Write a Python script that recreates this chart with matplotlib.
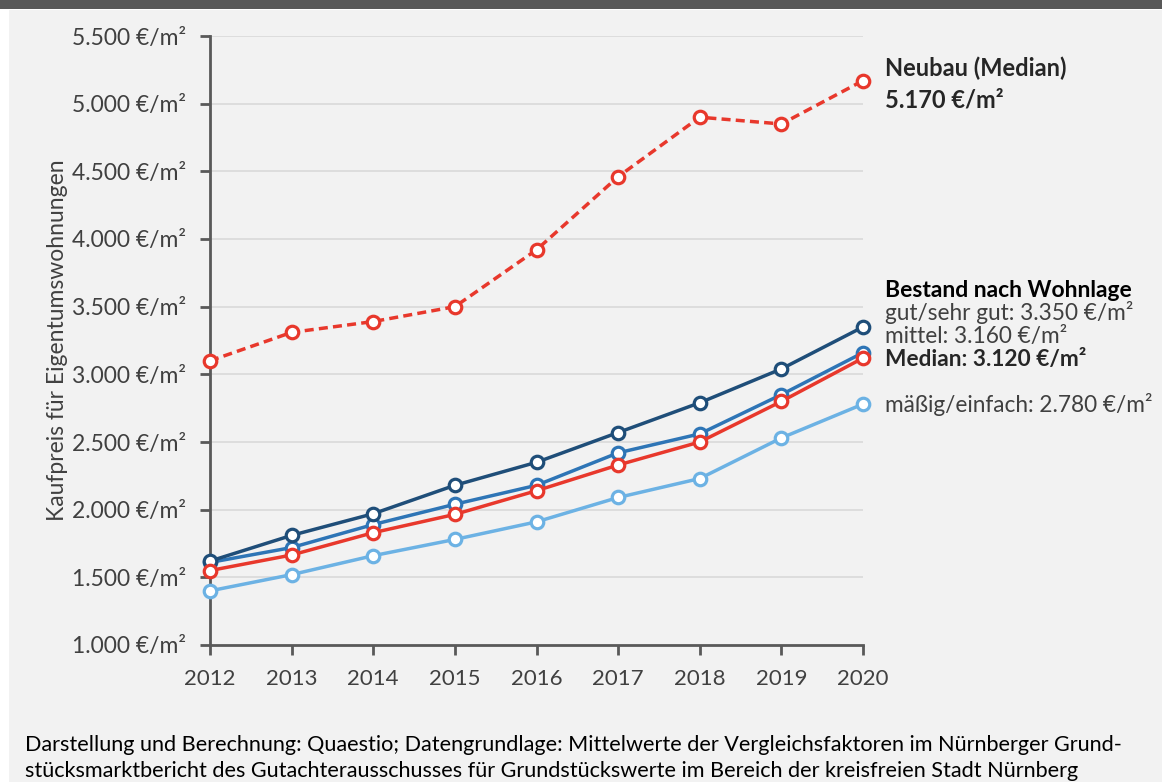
import matplotlib
matplotlib.use("Agg")
import matplotlib.pyplot as plt
from matplotlib.ticker import FuncFormatter, MultipleLocator
from matplotlib.patches import Rectangle

plt.rcParams['font.family'] = ['Lato', 'DejaVu Sans']

years = [2012, 2013, 2014, 2015, 2016, 2017, 2018, 2019, 2020]
neubau_median = [3100, 3310, 3390, 3500, 3920, 4460, 4900, 4850, 5170]
bestand_gut = [1620, 1810, 1970, 2180, 2350, 2570, 2790, 3040, 3350]
bestand_mittel = [1610, 1720, 1890, 2040, 2180, 2420, 2560, 2850, 3160]
bestand_median = [1550, 1665, 1830, 1965, 2140, 2330, 2500, 2800, 3120]
bestand_maessig = [1400, 1520, 1660, 1780, 1910, 2090, 2230, 2530, 2780]

y_label = "Kaufpreis für Eigentumswohnungen"
caption = ("Darstellung und Berechnung: Quaestio; Datengrundlage: Mittelwerte der Vergleichsfaktoren im Nürnberger Grund-\n"
           "stücksmarktbericht des Gutachterausschusses für Grundstückswerte im Bereich der kreisfreien Stadt Nürnberg")

c_dark = "#1f4e79"
c_mid = "#2e75b6"
c_light = "#6cb2e4"
c_red = "#e8382c"
c_axis = "#595959"
c_text = "#404040"

W, H = 1162, 782
fig = plt.figure(figsize=(W / 100, H / 100), dpi=100, facecolor="white")

# panel background and header bar
fig.patches.append(Rectangle((9 / W, 0), 1 - 9 / W, 1 - 10 / H, transform=fig.transFigure,
                             facecolor="#f2f2f2", edgecolor="none", zorder=-10))
fig.patches.append(Rectangle((0, 1 - 9 / H), 1, 9 / H, transform=fig.transFigure,
                             facecolor="#595959", edgecolor="none", zorder=-9))

ax = fig.add_axes([210 / W, 1 - 645 / H, (863 - 210) / W, (645 - 36) / H])
ax.set_facecolor("none")

ax.set_xlim(2012, 2020)
ax.set_ylim(1000, 5500)
ax.yaxis.set_major_locator(MultipleLocator(500))
ax.set_xticks(years)


def euro_fmt(v, pos):
    return f"{int(v):,}".replace(",", ".") + " €/m²"


ax.yaxis.set_major_formatter(FuncFormatter(euro_fmt))

for s in ["top", "right"]:
    ax.spines[s].set_visible(False)
for s in ["left", "bottom"]:
    ax.spines[s].set_color(c_axis)
    ax.spines[s].set_linewidth(2)

ax.tick_params(axis="both", colors=c_axis, length=7, width=2, labelcolor=c_text)
ax.tick_params(axis="y", pad=10, labelsize=16.5)
ax.tick_params(axis="x", pad=10, labelsize=16)

for v in range(1500, 5501, 500):
    ax.axhline(v, color="#d9d9d9", lw=1.2, zorder=0)

mk = dict(marker="o", markersize=9, markerfacecolor="white", markeredgewidth=2.3, clip_on=False)

ax.plot(years, bestand_maessig, color=c_light, lw=2.5, zorder=3, **mk)
ax.plot(years, bestand_mittel, color=c_mid, lw=2.5, zorder=4, **mk)
ax.plot(years, bestand_gut, color=c_dark, lw=2.5, zorder=5, **mk)
ax.plot(years, bestand_median, color=c_red, lw=2.5, zorder=6, **mk)
ax.plot(years, neubau_median, color=c_red, lw=2.5, ls=(0, (2.6, 1.5)), zorder=6, **mk)

ax.set_ylabel(y_label, fontsize=16.5, color=c_text, labelpad=3)

# right-hand annotations
def fx(px):
    return px / W


def fy(py):
    return 1 - py / H


fig.text(fx(885), fy(68), "Neubau (Median)", fontsize=17, fontweight="bold", color="#262626", va="center")
fig.text(fx(885), fy(100), f"{euro_fmt(neubau_median[-1], None)}", fontsize=17, fontweight="bold",
         color="#262626", va="center")
fig.text(fx(885), fy(290), "Bestand nach Wohnlage", fontsize=16.5, fontweight="bold", color="black", va="center")
fig.text(fx(885), fy(313), f"gut/sehr gut: {euro_fmt(bestand_gut[-1], None)}", fontsize=16.3, color=c_text, va="center")
fig.text(fx(885), fy(337), f"mittel: {euro_fmt(bestand_mittel[-1], None)}", fontsize=16.3, color=c_text, va="center")
fig.text(fx(885), fy(360), f"Median: {euro_fmt(bestand_median[-1], None)}", fontsize=16.3, fontweight="bold",
         color="#262626", va="center")
fig.text(fx(885), fy(404), f"mäßig/einfach: {euro_fmt(bestand_maessig[-1], None)}", fontsize=16.3, color=c_text,
         va="center")

fig.text(fx(25), fy(758), caption, fontsize=15.6, color="black", va="center", linespacing=1.4)

fig.savefig("out.png", dpi=100, facecolor=fig.get_facecolor())
